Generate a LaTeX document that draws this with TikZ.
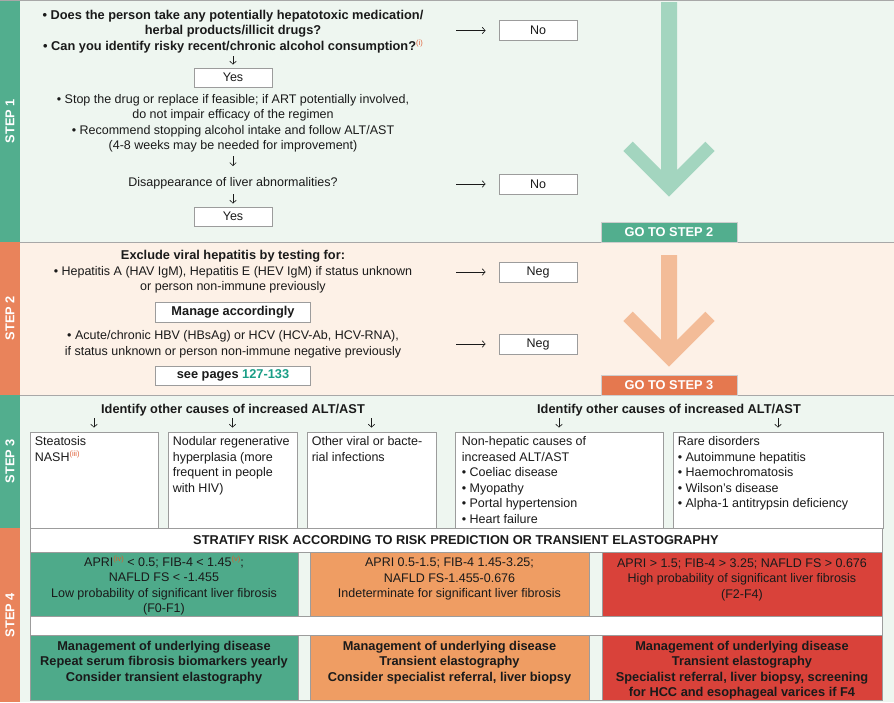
\documentclass[tikz,border=0pt]{standalone}
\usepackage{fontspec}
\setmainfont{Liberation Sans}
\usetikzlibrary{arrows.meta}
\definecolor{bandg}{HTML}{52AE8E}
\definecolor{bando}{HTML}{E9835B}
\definecolor{gotoo}{HTML}{E5784F}
\definecolor{bgg}{HTML}{EEF6F0}
\definecolor{bgo}{HTML}{FDF1E7}
\definecolor{arrowg}{HTML}{A3D5BF}
\definecolor{arrowo}{HTML}{F3BC98}
\definecolor{gfour}{HTML}{4EAA8A}
\definecolor{ofour}{HTML}{EF9D63}
\definecolor{rfour}{HTML}{D9423A}
\definecolor{boxgray}{HTML}{9C9C9C}
\definecolor{sepgray}{HTML}{A8A8A8}
\definecolor{supc}{HTML}{E0623A}
\definecolor{supg}{HTML}{D9602E}
\definecolor{tealc}{HTML}{1A9E86}
\definecolor{txtc}{HTML}{1A1A1A}
\newcommand{\mysup}[2][supc]{\raisebox{0.75ex}{\fontsize{7.5}{7.5}\selectfont\mdseries\color{#1}#2}}
\newcommand{\rgf}{\fontsize{12.5}{15.5}\selectfont}
\newcommand{\bdf}{\fontsize{12.8}{15.5}\selectfont\bfseries}
\begin{document}
\begin{tikzpicture}[x=1pt,y=-1pt,
  txt/.style={font=\rgf,align=center,inner sep=0pt,text=txtc},
  btxt/.style={txt,font=\bdf},
  ltxt/.style={font=\rgf,align=left,inner sep=0pt,text=txtc,anchor=north west},
  wbox/.style={draw=boxgray,fill=white,line width=0.8pt,inner sep=0pt,font=\rgf,text=txtc},
  cbox/.style={draw=boxgray,line width=0.8pt,inner sep=0pt},
  arr/.style={-{Straight Barb[length=3pt,width=6.5pt]},line width=0.6pt,draw=txtc},
  steplbl/.style={rotate=90,text=white,inner sep=0pt,font=\bdf},
  gotobox/.style={draw=boxgray!50,line width=0.5pt,inner sep=0pt,text=white,minimum width=136,minimum height=20,font=\bdf},
  sep/.style={draw=sepgray,line width=0.8pt}
]
\useasboundingbox (0,0) rectangle (894,702);
% backgrounds
\fill[bgg] (20,0) rectangle (894,242);
\fill[bgo] (20,242) rectangle (894,395);
\fill[bgg] (20,395) rectangle (894,702);
\fill[bandg] (0,0) rectangle (20,242);
\fill[bando] (0,242) rectangle (20,395);
\fill[bandg] (0,395) rectangle (20,528);
\fill[bando] (0,528) rectangle (20,702);
\draw[sep] (0,0.5) -- (894,0.5);
\draw[sep] (20,242) -- (894,242);
\draw[sep] (20,395) -- (894,395);
% step labels
\node[steplbl] (l1) at (10,121) {STEP 1};
\node[steplbl] (l2) at (10,318) {STEP 2};
\node[steplbl] (l3) at (10,461) {STEP 3};
\node[steplbl] (l4) at (10,615) {STEP 4};
% big arrows
\fill[arrowg] (661,2) -- (661,170) -- (632.7,141.7) -- (623.3,151) -- (669,196.7) -- (714.7,151) -- (705.3,141.7) -- (677,170) -- (677,2) -- cycle;
\fill[arrowo] (661,255) -- (661,340) -- (632.7,311.7) -- (623.3,321) -- (669,366.7) -- (714.7,321) -- (705.3,311.7) -- (677,340) -- (677,255) -- cycle;
\node[gotobox,fill=bandg] (go2) at (669,232) {GO TO STEP 2};
\node[gotobox,fill=gotoo] (go3) at (669,385) {GO TO STEP 3};
% ---------- STEP 1
\node[btxt] (q1) at (233,31.5) {• Does the person take any potentially hepatotoxic medication/\\herbal products/illicit drugs?\\• Can you identify risky recent/chronic alcohol consumption?\mysup{(i)}};
\node[wbox,minimum width=78,minimum height=19] (yes1) at (233,77.5) {Yes};
\node[txt] (s1) at (233,123.5) {• Stop the drug or replace if feasible; if ART potentially involved,\\do not impair efficacy of the regimen\\• Recommend stopping alcohol intake and follow ALT/AST\\(4-8 weeks may be needed for improvement)};
\node[txt] (dis) at (233,183) {Disappearance of liver abnormalities?};
\node[wbox,minimum width=78,minimum height=19] (yes2) at (233,216.5) {Yes};
\node[wbox,minimum width=78,minimum height=20] (no1) at (538,30.5) {No};
\node[wbox,minimum width=78,minimum height=20] (no2) at (538,184) {No};
\coordinate (a1s) at (233,56);
\draw[arr,shorten >=3] (a1s) -- (yes1.north);
\coordinate (a2s) at (233,156);
\coordinate (a2e) at (233,166);
\draw[arr] (a2s) -- (a2e);
\coordinate (a3s) at (233,194);
\draw[arr,shorten >=3] (a3s) -- (yes2.north);
\coordinate (h1s) at (456,30.5);
\draw[arr,shorten >=13] (h1s) -- (no1.west);
\coordinate (h2s) at (456,184);
\draw[arr,shorten >=13] (h2s) -- (no2.west);
% ---------- STEP 2
\node[txt] (ex) at (233,272) {{\bdf Exclude viral hepatitis by testing for:}\\• Hepatitis A (HAV IgM), Hepatitis E (HEV IgM) if status unknown\\or person non-immune previously};
\node[wbox,minimum width=155,minimum height=20,font=\bdf] (man) at (233,312) {Manage accordingly};
\node[txt] (ac) at (233,344.5) {• Acute/chronic HBV (HBsAg) or HCV (HCV-Ab, HCV-RNA),\\if status unknown or person non-immune negative previously};
\node[wbox,minimum width=155,minimum height=19,font=\bdf] (see) at (233,375.5) {see pages \textcolor{tealc}{127-133}};
\node[wbox,minimum width=78,minimum height=20] (neg1) at (538,272) {Neg};
\node[wbox,minimum width=78,minimum height=20] (neg2) at (538,344) {Neg};
\coordinate (h3s) at (456,272);
\draw[arr,shorten >=13] (h3s) -- (neg1.west);
\coordinate (h4s) at (456,344);
\draw[arr,shorten >=13] (h4s) -- (neg2.west);
% ---------- STEP 3
\node[btxt] (id1) at (233,410) {Identify other causes of increased ALT/AST};
\node[btxt] (id2) at (669,410) {Identify other causes of increased ALT/AST};
\node[wbox,minimum width=128,minimum height=96] (bx1) at (94,480) {};
\node[wbox,minimum width=129,minimum height=96] (bx2) at (232.5,480) {};
\node[wbox,minimum width=129,minimum height=96] (bx3) at (371.5,480) {};
\node[wbox,minimum width=208,minimum height=96] (bx4) at (559,480) {};
\node[wbox,minimum width=210,minimum height=96] (bx5) at (778,480) {};
\node[ltxt] (t1) at ([shift={(5,5)}]bx1.north west) {Steatosis\\NASH\mysup{(iii)}};
\node[ltxt] (t2) at ([shift={(5,5)}]bx2.north west) {Nodular regenerative\\hyperplasia (more\\frequent in people\\with HIV)};
\node[ltxt] (t3) at ([shift={(5,5)}]bx3.north west) {Other viral or bacte-\\rial infections};
\node[ltxt] (t4) at ([shift={(7,5)}]bx4.north west) {Non-hepatic causes of\\increased ALT/AST\\• Coeliac disease\\• Myopathy\\• Portal hypertension\\• Heart failure};
\node[ltxt] (t5) at ([shift={(5,5)}]bx5.north west) {Rare disorders\\• Autoimmune hepatitis\\• Haemochromatosis\\• Wilson's disease\\• Alpha-1 antitrypsin deficiency};
\coordinate (v1) at (94,418);
\coordinate (v2) at (232.5,418);
\coordinate (v3) at (371.5,418);
\coordinate (v4) at (559,418);
\coordinate (v5) at (778,418);
\foreach \i in {1,...,5}{\draw[arr,shorten >=4] (v\i) -- (bx\i.north);}
% ---------- STEP 4
\node[cbox,fill=white,minimum width=852,minimum height=172] (w4) at (456,614) {};
\node[btxt] (strat) at (456,540.5) {STRATIFY RISK ACCORDING TO RISK PREDICTION OR TRANSIENT ELASTOGRAPHY};
\node[cbox,fill=gfour,minimum width=268,minimum height=64] (ga) at (164,584) {};
\node[cbox,fill=bgg,minimum width=12,minimum height=64] (gp1) at (304,584) {};
\node[cbox,fill=ofour,minimum width=279,minimum height=64] (oa) at (449.5,584) {};
\node[cbox,fill=bgg,minimum width=13,minimum height=64] (gp2) at (595.5,584) {};
\node[cbox,fill=rfour,minimum width=280,minimum height=64] (ra) at (742,584) {};
\node[cbox,fill=gfour,minimum width=268,minimum height=65] (gb) at (164,667.5) {};
\node[cbox,fill=bgg,minimum width=12,minimum height=65] (gp3) at (304,667.5) {};
\node[cbox,fill=ofour,minimum width=279,minimum height=65] (ob) at (449.5,667.5) {};
\node[cbox,fill=bgg,minimum width=13,minimum height=65] (gp4) at (595.5,667.5) {};
\node[cbox,fill=rfour,minimum width=280,minimum height=65] (rb) at (742,667.5) {};
\node[txt] (gat) at (164,585.5) {APRI\mysup[supg]{(iv)} < 0.5; FIB-4 < 1.45\mysup[supg]{(v)};\\NAFLD FS < -1.455\\Low probability of significant liver fibrosis\\(F0-F1)};
\node[txt] (oat) at (449.5,579) {APRI 0.5-1.5; FIB-4 1.45-3.25;\\NAFLD FS-1.455-0.676\\Indeterminate for significant liver fibrosis};
\node[txt] (rat) at (742,579.5) {APRI > 1.5; FIB-4 > 3.25; NAFLD FS > 0.676\\High probability of significant liver fibrosis\\(F2-F4)};
\node[btxt] (gbt) at (164,662.5) {Management of underlying disease\\Repeat serum fibrosis biomarkers yearly\\Consider transient elastography};
\node[btxt] (obt) at (449.5,662.5) {Management of underlying disease\\Transient elastography\\Consider specialist referral, liver biopsy};
\node[btxt] (rbt) at (742,670) {Management of underlying disease\\Transient elastography\\Specialist referral, liver biopsy, screening\\for HCC and esophageal varices if F4};
\end{tikzpicture}
\end{document}
